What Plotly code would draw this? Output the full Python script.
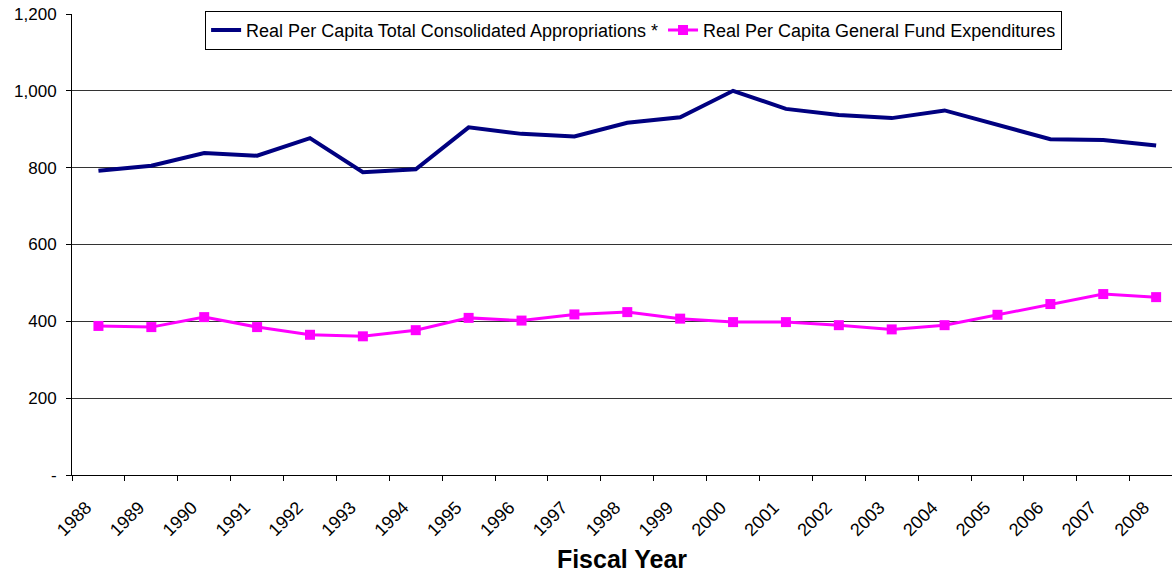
import plotly.graph_objects as go

years = [str(y) for y in range(1988, 2009)]
consolidated = [792, 805, 838, 831, 877, 788, 796, 905, 888, 881, 917,
                931, 1000, 953, 937, 929, 949, 911, 874, 872, 858]
general_fund = [388, 385, 411, 385, 365, 361, 377, 409, 402, 418, 424,
                407, 398, 398, 390, 379, 390, 417, 445, 471, 463]
y_ticks = [0, 200, 400, 600, 800, 1000, 1200]
y_tick_text = ["-", "200", "400", "600", "800", "1,000", "1,200"]

font_family = "Liberation Sans, Arial, sans-serif"
pos = list(range(len(years)))

fig = go.Figure()
fig.add_trace(go.Scatter(
    x=pos, y=consolidated, mode="lines",
    name="Real Per Capita Total Consolidated Appropriations *",
    line=dict(color="#000080", width=4),
))
fig.add_trace(go.Scatter(
    x=pos, y=general_fund, mode="lines+markers",
    name="Real Per Capita General Fund Expenditures",
    line=dict(color="#FF00FF", width=3),
    marker=dict(symbol="square", size=10, color="#FF00FF"),
))

label_shift = 0.27
fig.update_xaxes(
    range=[-0.5, 20.3],
    tickmode="array",
    tickvals=[p - 0.5 + label_shift for p in pos],
    ticktext=years,
    tickangle=-45,
    ticks="",
    ticklabelstandoff=14,
    tickfont=dict(family=font_family, size=18, color="black"),
    showline=True, linecolor="black", linewidth=1,
    showgrid=False, zeroline=False,
    automargin=False,
    minor=dict(tickmode="array", tickvals=[p - 0.5 for p in pos],
               ticks="outside", ticklen=5, tickcolor="black", tickwidth=1,
               showgrid=False),
    title=dict(text="<b>Fiscal Year</b>",
               font=dict(family=font_family, size=25, color="black"),
               standoff=20),
)
fig.update_yaxes(
    range=[0, 1200],
    tickmode="array", tickvals=y_ticks, ticktext=y_tick_text,
    ticks="outside", ticklen=5, tickcolor="black",
    ticklabelstandoff=6,
    tickfont=dict(family=font_family, size=17, color="black"),
    showline=True, linecolor="black", linewidth=1,
    showgrid=True, gridcolor="#333333", gridwidth=1, zeroline=False,
)

fig.update_layout(
    width=1172, height=573,
    margin=dict(l=72, r=0, t=14, b=98),
    plot_bgcolor="white", paper_bgcolor="white",
    font=dict(family=font_family, color="black"),
    legend=dict(
        orientation="h", x=0.121, y=1.007, xanchor="left", yanchor="top",
        bordercolor="black", borderwidth=1, bgcolor="white",
        font=dict(family=font_family, size=18, color="black"),
        itemwidth=30, tracegroupgap=0,
    ),
    showlegend=True,
)

fig.write_html("out.html")
